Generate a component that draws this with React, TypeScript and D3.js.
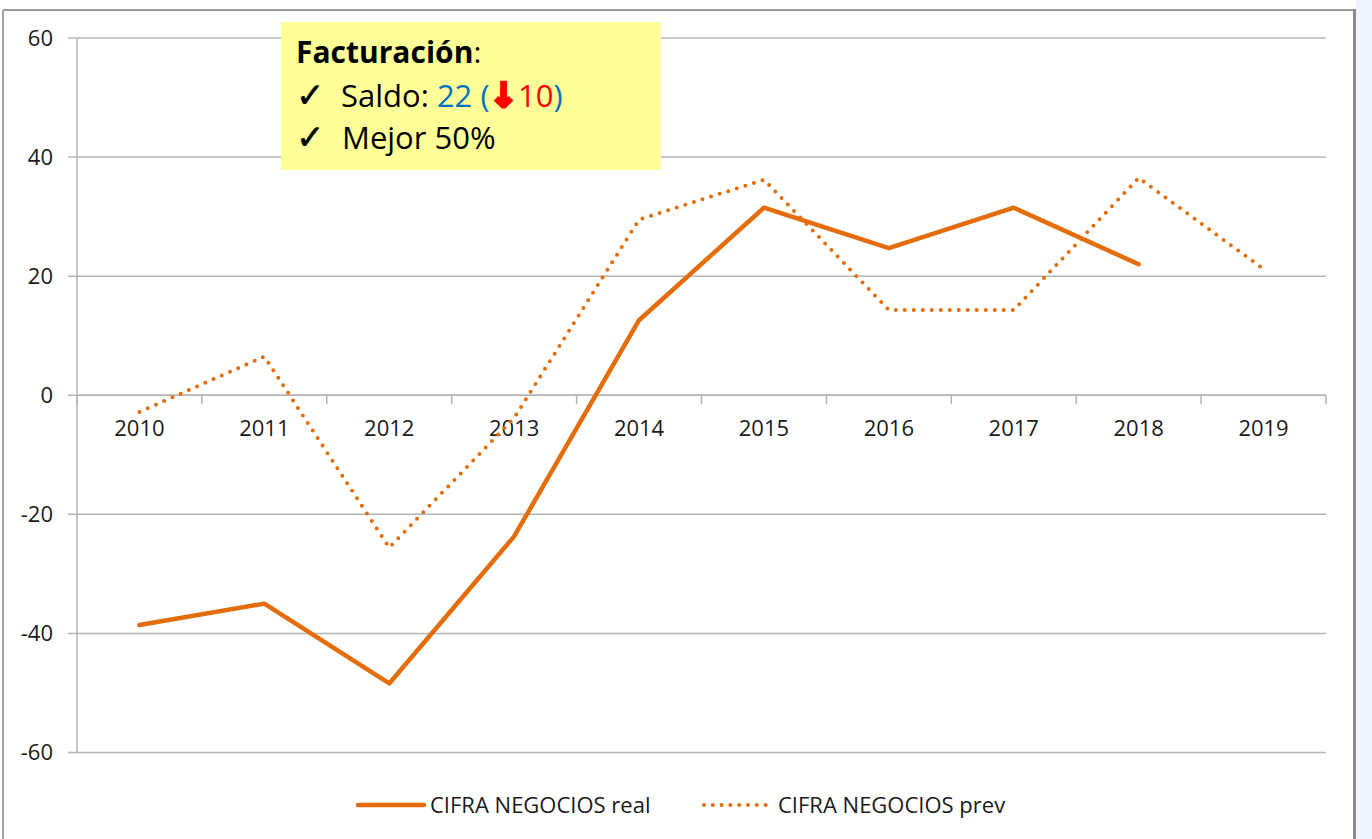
import React from "react";
import * as d3 from "d3";

const years = ["2010", "2011", "2012", "2013", "2014", "2015", "2016", "2017", "2018", "2019"];
const realValues: (number | null)[] = [-38.6, -35.0, -48.4, -23.7, 12.6, 31.5, 24.7, 31.5, 22.0, null];
const prevValues: (number | null)[] = [-2.8, 6.5, -25.6, -3.8, 29.5, 36.2, 14.3, 14.3, 36.5, 21.2];
const yTicks = [60, 40, 20, 0, -20, -40, -60];
const seriesNames = ["CIFRA NEGOCIOS real", "CIFRA NEGOCIOS prev"];

const W = 1372;
const H = 839;
const left = 77;
const right = 1326;
const top = 38;
const bottom = 752.5;
const ORANGE = "#E46C0A";
const GRID = "#b4b4b4";
const FONT = "'Open Sans', sans-serif";

export default function App() {
  const x = d3.scaleBand<string>().domain(years).range([left, right]);
  const y = d3.scaleLinear().domain([-60, 60]).range([bottom, top]);
  const cx = (d: string) => (x(d) as number) + x.bandwidth() / 2;

  const line = d3
    .line<number | null>()
    .defined((d) => d !== null)
    .x((_, i) => cx(years[i]))
    .y((d) => y(d as number));

  const boundaries = years.map((d) => x(d) as number).concat([right]);

  return (
    <svg
      width={W}
      height={H}
      style={{ position: "absolute", left: 0, top: 0, display: "block" }}
      fontFamily={FONT}
    >
      <rect x={0} y={0} width={W} height={H} fill="#ffffff" />
      <rect x={1356} y={0} width={16} height={H} fill="#eef6fd" />
      {/* frame */}
      <line x1={3} y1={10} x2={1355} y2={10} stroke="#9a9a9a" strokeWidth={2} />
      <line x1={3} y1={10} x2={3} y2={H} stroke="#a0a0a0" strokeWidth={2} />
      <line x1={1354.5} y1={9} x2={1354.5} y2={H} stroke="#8a8a8a" strokeWidth={3} />

      {/* grid lines */}
      {yTicks.map((t) => (
        <g key={t}>
          <line x1={68} x2={right} y1={y(t)} y2={y(t)} stroke={GRID} strokeWidth={1.5} />
          <text x={53} y={y(t) + 7.5} textAnchor="end" fontSize={22} fill="#1a1a1a">
            {t}
          </text>
        </g>
      ))}
      {/* y axis */}
      <line x1={left} x2={left} y1={top} y2={bottom} stroke={GRID} strokeWidth={1.5} />
      {/* x axis at 0 */}
      <line x1={left} x2={right} y1={y(0)} y2={y(0)} stroke={GRID} strokeWidth={1.5} />
      {boundaries.map((b, i) => (
        <line key={i} x1={b} x2={b} y1={y(0)} y2={y(0) + 9} stroke={GRID} strokeWidth={1.5} />
      ))}
      {years.map((d) => (
        <text key={d} x={cx(d)} y={y(0) + 41} textAnchor="middle" fontSize={22} fill="#1a1a1a">
          {d}
        </text>
      ))}

      {/* series */}
      <path
        d={line(prevValues) || ""}
        fill="none"
        stroke={ORANGE}
        strokeWidth={4}
        strokeLinecap="round"
        strokeDasharray="0 9"
      />
      <path
        d={line(realValues) || ""}
        fill="none"
        stroke={ORANGE}
        strokeWidth={4.5}
        strokeLinejoin="round"
        strokeLinecap="round"
      />

      {/* legend */}
      <line x1={358} x2={424} y1={805} y2={805} stroke={ORANGE} strokeWidth={4.5} strokeLinecap="round" />
      <text x={430} y={813} fontSize={22} fill="#1a1a1a">
        {seriesNames[0]}
      </text>
      <line
        x1={704}
        x2={766}
        y1={805}
        y2={805}
        stroke={ORANGE}
        strokeWidth={4}
        strokeLinecap="round"
        strokeDasharray="0 8.8"
      />
      <text x={778} y={813} fontSize={22} fill="#1a1a1a">
        {seriesNames[1]}
      </text>

      {/* annotation box */}
      <rect x={281} y={22} width={380} height={148} fill="#ffff99" />
      <text x={296} y={63} fontSize={30} fill="#000">
        <tspan fontWeight="bold">Facturación</tspan>
        <tspan>:</tspan>
      </text>
      <text x={296} y={107} fontSize={34} fill="#000" stroke="#000" strokeWidth={0.6} fontFamily="'DejaVu Sans', sans-serif">
        ✓
      </text>
      <text y={107} fontSize={31} fill="#000">
        <tspan x={341}>Saldo: </tspan>
        <tspan fill="#0070C0">22 (</tspan>
        <tspan
          fill="#ff0000"
          fontWeight="bold"
          stroke="#ff0000"
          strokeWidth={3}
          fontSize={34}
          fontFamily="'DejaVu Sans', sans-serif"
        >
          ↓
        </tspan>
        <tspan fill="#ff0000">10</tspan>
        <tspan fill="#0070C0">)</tspan>
      </text>
      <text x={296} y={149} fontSize={34} fill="#000" stroke="#000" strokeWidth={0.6} fontFamily="'DejaVu Sans', sans-serif">
        ✓
      </text>
      <text x={342} y={149} fontSize={31} fill="#000">
        Mejor 50%
      </text>
    </svg>
  );
}
